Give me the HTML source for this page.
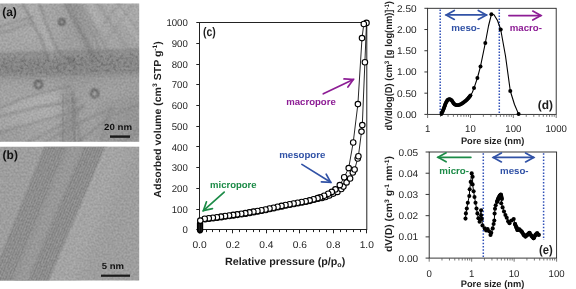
<!DOCTYPE html>
<html><head><meta charset="utf-8"><style>
html,body{margin:0;padding:0;background:#fff;width:576px;height:289px;overflow:hidden}
svg{display:block;will-change:transform}
text{font-family:"Liberation Sans",sans-serif}
svg{text-rendering:geometricPrecision}
</style></head><body>
<svg width="576" height="289" viewBox="0 0 576 289">
<rect width="576" height="289" fill="#fff"/>
<defs><clipPath id="ca"><rect x="0" y="3.5" width="139.2" height="138.3"/></clipPath><clipPath id="cb"><rect x="0" y="146.8" width="139.2" height="133.6"/></clipPath><filter id="b1" x="-30%" y="-30%" width="160%" height="160%"><feGaussianBlur stdDeviation="0.8"/></filter><filter id="b2" x="-30%" y="-30%" width="160%" height="160%"><feGaussianBlur stdDeviation="2"/></filter><filter id="b4" x="-30%" y="-30%" width="160%" height="160%"><feGaussianBlur stdDeviation="3.5"/></filter><filter id="b8" x="-10%" y="-10%" width="120%" height="120%"><feGaussianBlur stdDeviation="7"/></filter><filter id="nz" x="0" y="0" width="100%" height="100%" color-interpolation-filters="sRGB"><feTurbulence type="fractalNoise" baseFrequency="0.5" numOctaves="2" seed="7"/><feColorMatrix type="matrix" values="2.6 0 0 0 -0.8  2.6 0 0 0 -0.8  2.6 0 0 0 -0.8  0 0 0 0 0.07"/></filter><filter id="nz2" x="0" y="0" width="100%" height="100%" color-interpolation-filters="sRGB"><feTurbulence type="fractalNoise" baseFrequency="0.3" numOctaves="3" seed="3"/><feColorMatrix type="matrix" values="0 0 0 0 0.25  0 0 0 0 0.25  0 0 0 0 0.25  -3.2 0 0 0 1.75"/></filter><mask id="mband" maskUnits="userSpaceOnUse" x="0" y="0" width="150" height="150"><polygon points="-5,56 145,52 145,72 -5,76" fill="#fff" filter="url(#b2)"/></mask></defs>
<g clip-path="url(#ca)">
<g filter="url(#b8)">
<rect x="-20" y="-17" width="20.5" height="20.5" fill="rgb(170,170,170)"/>
<rect x="0" y="-17" width="20.5" height="20.5" fill="rgb(170,170,170)"/>
<rect x="20" y="-17" width="20.5" height="20.5" fill="rgb(170,170,170)"/>
<rect x="40" y="-17" width="20.5" height="20.5" fill="rgb(166,166,166)"/>
<rect x="60" y="-17" width="20.5" height="20.5" fill="rgb(160,160,160)"/>
<rect x="80" y="-17" width="20.5" height="20.5" fill="rgb(165,165,165)"/>
<rect x="100" y="-17" width="20.5" height="20.5" fill="rgb(170,170,170)"/>
<rect x="120" y="-17" width="20.5" height="20.5" fill="rgb(172,172,172)"/>
<rect x="140" y="-17" width="20.5" height="20.5" fill="rgb(172,172,172)"/>
<rect x="-20" y="3" width="20.5" height="20.5" fill="rgb(170,170,170)"/>
<rect x="0" y="3" width="20.5" height="20.5" fill="rgb(170,170,170)"/>
<rect x="20" y="3" width="20.5" height="20.5" fill="rgb(170,170,170)"/>
<rect x="40" y="3" width="20.5" height="20.5" fill="rgb(166,166,166)"/>
<rect x="60" y="3" width="20.5" height="20.5" fill="rgb(160,160,160)"/>
<rect x="80" y="3" width="20.5" height="20.5" fill="rgb(165,165,165)"/>
<rect x="100" y="3" width="20.5" height="20.5" fill="rgb(170,170,170)"/>
<rect x="120" y="3" width="20.5" height="20.5" fill="rgb(172,172,172)"/>
<rect x="140" y="3" width="20.5" height="20.5" fill="rgb(172,172,172)"/>
<rect x="-20" y="23" width="20.5" height="20.5" fill="rgb(168,168,168)"/>
<rect x="0" y="23" width="20.5" height="20.5" fill="rgb(168,168,168)"/>
<rect x="20" y="23" width="20.5" height="20.5" fill="rgb(170,170,170)"/>
<rect x="40" y="23" width="20.5" height="20.5" fill="rgb(168,168,168)"/>
<rect x="60" y="23" width="20.5" height="20.5" fill="rgb(158,158,158)"/>
<rect x="80" y="23" width="20.5" height="20.5" fill="rgb(162,162,162)"/>
<rect x="100" y="23" width="20.5" height="20.5" fill="rgb(168,168,168)"/>
<rect x="120" y="23" width="20.5" height="20.5" fill="rgb(165,165,165)"/>
<rect x="140" y="23" width="20.5" height="20.5" fill="rgb(165,165,165)"/>
<rect x="-20" y="43" width="20.5" height="20.5" fill="rgb(166,166,166)"/>
<rect x="0" y="43" width="20.5" height="20.5" fill="rgb(166,166,166)"/>
<rect x="20" y="43" width="20.5" height="20.5" fill="rgb(165,165,165)"/>
<rect x="40" y="43" width="20.5" height="20.5" fill="rgb(165,165,165)"/>
<rect x="60" y="43" width="20.5" height="20.5" fill="rgb(160,160,160)"/>
<rect x="80" y="43" width="20.5" height="20.5" fill="rgb(162,162,162)"/>
<rect x="100" y="43" width="20.5" height="20.5" fill="rgb(164,164,164)"/>
<rect x="120" y="43" width="20.5" height="20.5" fill="rgb(165,165,165)"/>
<rect x="140" y="43" width="20.5" height="20.5" fill="rgb(165,165,165)"/>
<rect x="-20" y="63" width="20.5" height="20.5" fill="rgb(154,154,154)"/>
<rect x="0" y="63" width="20.5" height="20.5" fill="rgb(154,154,154)"/>
<rect x="20" y="63" width="20.5" height="20.5" fill="rgb(152,152,152)"/>
<rect x="40" y="63" width="20.5" height="20.5" fill="rgb(152,152,152)"/>
<rect x="60" y="63" width="20.5" height="20.5" fill="rgb(150,150,150)"/>
<rect x="80" y="63" width="20.5" height="20.5" fill="rgb(152,152,152)"/>
<rect x="100" y="63" width="20.5" height="20.5" fill="rgb(154,154,154)"/>
<rect x="120" y="63" width="20.5" height="20.5" fill="rgb(156,156,156)"/>
<rect x="140" y="63" width="20.5" height="20.5" fill="rgb(156,156,156)"/>
<rect x="-20" y="83" width="20.5" height="20.5" fill="rgb(166,166,166)"/>
<rect x="0" y="83" width="20.5" height="20.5" fill="rgb(166,166,166)"/>
<rect x="20" y="83" width="20.5" height="20.5" fill="rgb(166,166,166)"/>
<rect x="40" y="83" width="20.5" height="20.5" fill="rgb(167,167,167)"/>
<rect x="60" y="83" width="20.5" height="20.5" fill="rgb(158,158,158)"/>
<rect x="80" y="83" width="20.5" height="20.5" fill="rgb(162,162,162)"/>
<rect x="100" y="83" width="20.5" height="20.5" fill="rgb(164,164,164)"/>
<rect x="120" y="83" width="20.5" height="20.5" fill="rgb(160,160,160)"/>
<rect x="140" y="83" width="20.5" height="20.5" fill="rgb(160,160,160)"/>
<rect x="-20" y="103" width="20.5" height="20.5" fill="rgb(164,164,164)"/>
<rect x="0" y="103" width="20.5" height="20.5" fill="rgb(164,164,164)"/>
<rect x="20" y="103" width="20.5" height="20.5" fill="rgb(170,170,170)"/>
<rect x="40" y="103" width="20.5" height="20.5" fill="rgb(170,170,170)"/>
<rect x="60" y="103" width="20.5" height="20.5" fill="rgb(155,155,155)"/>
<rect x="80" y="103" width="20.5" height="20.5" fill="rgb(162,162,162)"/>
<rect x="100" y="103" width="20.5" height="20.5" fill="rgb(160,160,160)"/>
<rect x="120" y="103" width="20.5" height="20.5" fill="rgb(154,154,154)"/>
<rect x="140" y="103" width="20.5" height="20.5" fill="rgb(154,154,154)"/>
<rect x="-20" y="123" width="20.5" height="20.5" fill="rgb(158,158,158)"/>
<rect x="0" y="123" width="20.5" height="20.5" fill="rgb(158,158,158)"/>
<rect x="20" y="123" width="20.5" height="20.5" fill="rgb(163,163,163)"/>
<rect x="40" y="123" width="20.5" height="20.5" fill="rgb(165,165,165)"/>
<rect x="60" y="123" width="20.5" height="20.5" fill="rgb(153,153,153)"/>
<rect x="80" y="123" width="20.5" height="20.5" fill="rgb(160,160,160)"/>
<rect x="100" y="123" width="20.5" height="20.5" fill="rgb(157,157,157)"/>
<rect x="120" y="123" width="20.5" height="20.5" fill="rgb(154,154,154)"/>
<rect x="140" y="123" width="20.5" height="20.5" fill="rgb(154,154,154)"/>
<rect x="-20" y="143" width="20.5" height="20.5" fill="rgb(158,158,158)"/>
<rect x="0" y="143" width="20.5" height="20.5" fill="rgb(158,158,158)"/>
<rect x="20" y="143" width="20.5" height="20.5" fill="rgb(163,163,163)"/>
<rect x="40" y="143" width="20.5" height="20.5" fill="rgb(165,165,165)"/>
<rect x="60" y="143" width="20.5" height="20.5" fill="rgb(153,153,153)"/>
<rect x="80" y="143" width="20.5" height="20.5" fill="rgb(160,160,160)"/>
<rect x="100" y="143" width="20.5" height="20.5" fill="rgb(157,157,157)"/>
<rect x="120" y="143" width="20.5" height="20.5" fill="rgb(154,154,154)"/>
<rect x="140" y="143" width="20.5" height="20.5" fill="rgb(154,154,154)"/>
</g>
<g filter="url(#b4)">
<polygon points="-5,55 145,51.5 145,72 -5,76" fill="#828282" opacity="0.7"/>
</g>
<polygon points="23,3 33,22 42,38 49,58 60,58 52,40 45,22 37,3" fill="#b8b8b8" opacity="0.35" filter="url(#b2)"/>
<path d="M21,0 L32.3,22 L41,38 L47.6,58" fill="none" stroke="#707070" stroke-width="1.8" opacity="0.55" filter="url(#b1)" stroke-linejoin="round"/>
<path d="M38,0 L45.7,22 L53,40 L61,58" fill="none" stroke="#707070" stroke-width="1.8" opacity="0.55" filter="url(#b1)" stroke-linejoin="round"/>
<path d="M-2,27.2 L28.5,18.2 L34,17" fill="none" stroke="#707070" stroke-width="1.6" opacity="0.5" filter="url(#b1)" stroke-linejoin="round"/>
<path d="M-2,34 L28.5,24 L34,23" fill="none" stroke="#707070" stroke-width="1.6" opacity="0.5" filter="url(#b1)" stroke-linejoin="round"/>
<polygon points="64,0 73,0 98,58 88,58" fill="#808080" opacity="0.45" filter="url(#b2)"/>
<path d="M63,0 L88,45 L94,58" fill="none" stroke="#6a6a6a" stroke-width="1.5" opacity="0.5" filter="url(#b1)" stroke-linejoin="round"/>
<path d="M74,0 L96,40 L101,58" fill="none" stroke="#6a6a6a" stroke-width="1.5" opacity="0.4" filter="url(#b1)" stroke-linejoin="round"/>
<polygon points="84,0 92,0 106,28 100,30" fill="#c2c2c2" opacity="0.4" filter="url(#b2)"/>
<polygon points="110,0 120,0 142,36 140,46" fill="#c0c0c0" opacity="0.35" filter="url(#b2)"/>
<path d="M101,28 L122,0" fill="none" stroke="#7a7a7a" stroke-width="1.4" opacity="0.4" filter="url(#b1)" stroke-linejoin="round"/>
<path d="M100,30 L94,36" fill="none" stroke="#7a7a7a" stroke-width="1.2" opacity="0.3" filter="url(#b1)" stroke-linejoin="round"/>
<path d="M0,54 L140,50" fill="none" stroke="#6a6a6a" stroke-width="1.4" opacity="0.45" filter="url(#b1)" stroke-linejoin="round"/>
<path d="M0,75 L140,71" fill="none" stroke="#7a7a7a" stroke-width="2.5" opacity="0.3" filter="url(#b2)" stroke-linejoin="round"/>
<g mask="url(#mband)"><rect x="0" y="40" width="140" height="45" filter="url(#nz2)" opacity="0.3"/></g>
<path d="M78,0 L104,44 L110,56" fill="none" stroke="#707070" stroke-width="1.4" opacity="0.4" filter="url(#b1)" stroke-linejoin="round"/>
<path d="M96,0 L122,40 L130,52" fill="none" stroke="#707070" stroke-width="1.4" opacity="0.35" filter="url(#b1)" stroke-linejoin="round"/>
<path d="M116,0 L140,34" fill="none" stroke="#707070" stroke-width="1.4" opacity="0.35" filter="url(#b1)" stroke-linejoin="round"/>
<path d="M104,44 L126,14 L134,3" fill="none" stroke="#757575" stroke-width="1.3" opacity="0.3" filter="url(#b1)" stroke-linejoin="round"/>
<polygon points="0,110 24.9,99 57.3,90 64.8,101 37.4,106 0,115" fill="#bdbdbd" opacity="0.35" filter="url(#b2)"/>
<polygon points="0,118 37.4,109 64.8,104 67.3,112 0,130" fill="#b8b8b8" opacity="0.3" filter="url(#b2)"/>
<path d="M-2,109 L24.9,97.4 L57.3,88.7 L70,86" fill="none" stroke="#6e6e6e" stroke-width="1.6" opacity="0.5" filter="url(#b1)" stroke-linejoin="round"/>
<path d="M-2,116.5 L37.4,107.4 L64.8,102.4 L80,99" fill="none" stroke="#6e6e6e" stroke-width="1.6" opacity="0.5" filter="url(#b1)" stroke-linejoin="round"/>
<path d="M-2,133 L67.3,113.6 L85,106" fill="none" stroke="#6e6e6e" stroke-width="1.6" opacity="0.45" filter="url(#b1)" stroke-linejoin="round"/>
<path d="M22,145 L69.5,121.4 L83.2,105.2" fill="none" stroke="#6e6e6e" stroke-width="1.6" opacity="0.45" filter="url(#b1)" stroke-linejoin="round"/>
<path d="M40,145 L69.5,128.3 L97.1,114.4 L115,108" fill="none" stroke="#6e6e6e" stroke-width="1.6" opacity="0.45" filter="url(#b1)" stroke-linejoin="round"/>
<path d="M74,145 L113.4,114.4 L140,104" fill="none" stroke="#6e6e6e" stroke-width="1.6" opacity="0.4" filter="url(#b1)" stroke-linejoin="round"/>
<polygon points="62.3,145 62.5,118 63,92 72.2,88 73.5,115 75,145" fill="#8c8c8c" opacity="0.4" filter="url(#b2)"/>
<path d="M62.3,145 L62.3,118 L63,95" fill="none" stroke="#6e6e6e" stroke-width="2.2" opacity="0.45" filter="url(#b1)" stroke-linejoin="round"/>
<path d="M75,145 L73.5,115 L72.2,90" fill="none" stroke="#6e6e6e" stroke-width="2.2" opacity="0.45" filter="url(#b1)" stroke-linejoin="round"/>
<path d="M80.9,145 L76,115 L74,98" fill="none" stroke="#6e6e6e" stroke-width="1.6" opacity="0.35" filter="url(#b1)" stroke-linejoin="round"/>
<path d="M100,145 L108,117 L112,105" fill="none" stroke="#6e6e6e" stroke-width="1.5" opacity="0.35" filter="url(#b1)" stroke-linejoin="round"/>
<path d="M120,145 L140,128" fill="none" stroke="#6e6e6e" stroke-width="1.5" opacity="0.35" filter="url(#b1)" stroke-linejoin="round"/>
<polygon points="100,100 140,95 140,142 100,142" fill="#8a8a8a" opacity="0.25" filter="url(#b4)"/>
<circle cx="38.5" cy="84.5" r="3.7" fill="none" stroke="#383838" stroke-width="1.7" opacity="0.85" filter="url(#b1)"/>
<circle cx="94.8" cy="93.4" r="3.7" fill="none" stroke="#383838" stroke-width="1.7" opacity="0.85" filter="url(#b1)"/>
<circle cx="61.8" cy="22.0" r="2.9" fill="none" stroke="#383838" stroke-width="1.7" opacity="0.75" filter="url(#b1)"/>
<circle cx="71" cy="60.5" r="2.2" fill="none" stroke="#383838" stroke-width="1.7" opacity="0.35" filter="url(#b1)"/>
<rect x="0" y="3" width="140" height="140" filter="url(#nz)"/>
</g>
<defs><pattern id="lat" patternUnits="userSpaceOnUse" width="2.4" height="40" patternTransform="rotate(22.3)"><rect width="1.1" height="40" fill="#000"/></pattern></defs>
<g clip-path="url(#cb)">
<rect x="0" y="146" width="140" height="136" fill="#a0a0a0"/>
<g filter="url(#b8)">
<polygon points="110.14,140 47.14000000000001,290 71.14000000000001,290 134.14,140" fill="#a9a9a9" opacity="0.9"/>
</g>
<polygon points="45.8,140 -14.2,290 46.1,290 109.1,140" fill="#949494" opacity="1" filter="url(#b1)"/>
<polygon points="72.4,140 11.1,290 23.2,290 85.1,140" fill="#9c9c9c" opacity="0.8" filter="url(#b2)"/>
<polygon points="47.1,140 -13.0,290 7.5,290 68.6,140" fill="url(#lat)" opacity="0.09"/>
<polygon points="86.3,140 24.4,290 44.3,290 107.2,140" fill="url(#lat)" opacity="0.1"/>
<line x1="110.34" y1="140" x2="47.34000000000001" y2="290" stroke="#b4b4b4" stroke-width="2" opacity="0.7" filter="url(#b1)"/>
<line x1="44.8" y1="140" x2="-15.200000000000003" y2="290" stroke="#ababab" stroke-width="1.5" opacity="0.6" filter="url(#b1)"/>
<rect x="0" y="146" width="140" height="136" filter="url(#nz)"/>
</g>
<text x="2.20" y="15.60" font-size="12" font-family="Liberation Sans, sans-serif" fill="#111" font-weight="bold" >(a)</text>
<text x="104.00" y="129.60" font-size="8.8" font-family="Liberation Sans, sans-serif" fill="#111" font-weight="bold" textLength="28" lengthAdjust="spacingAndGlyphs" >20 nm</text>
<rect x="110" y="135.4" width="20" height="2.4" fill="#1a1a1a"/>
<text x="2.60" y="159.30" font-size="12" font-family="Liberation Sans, sans-serif" fill="#111" font-weight="bold" >(b)</text>
<text x="101.70" y="269.00" font-size="8.8" font-family="Liberation Sans, sans-serif" fill="#111" font-weight="bold" textLength="22.3" lengthAdjust="spacingAndGlyphs" >5 nm</text>
<rect x="101" y="274.6" width="29" height="2.2" fill="#1a1a1a"/>
<rect x="199.5" y="22.5" width="167.3" height="207" fill="none" stroke="#222" stroke-width="1"/>
<line x1="196.30" y1="229.50" x2="199.50" y2="229.50" stroke="#222" stroke-width="1" />
<text x="187.80" y="233.40" font-size="9.8" font-family="Liberation Sans, sans-serif" fill="#1e1e1e" text-anchor="end" textLength="5.35" lengthAdjust="spacingAndGlyphs" >0</text>
<line x1="196.30" y1="209.50" x2="199.50" y2="209.50" stroke="#222" stroke-width="1" />
<text x="187.80" y="212.69" font-size="9.8" font-family="Liberation Sans, sans-serif" fill="#1e1e1e" text-anchor="end" textLength="16.05" lengthAdjust="spacingAndGlyphs" >100</text>
<line x1="196.30" y1="188.50" x2="199.50" y2="188.50" stroke="#222" stroke-width="1" />
<text x="187.80" y="191.98" font-size="9.8" font-family="Liberation Sans, sans-serif" fill="#1e1e1e" text-anchor="end" textLength="16.05" lengthAdjust="spacingAndGlyphs" >200</text>
<line x1="196.30" y1="167.50" x2="199.50" y2="167.50" stroke="#222" stroke-width="1" />
<text x="187.80" y="171.27" font-size="9.8" font-family="Liberation Sans, sans-serif" fill="#1e1e1e" text-anchor="end" textLength="16.05" lengthAdjust="spacingAndGlyphs" >300</text>
<line x1="196.30" y1="146.50" x2="199.50" y2="146.50" stroke="#222" stroke-width="1" />
<text x="187.80" y="150.56" font-size="9.8" font-family="Liberation Sans, sans-serif" fill="#1e1e1e" text-anchor="end" textLength="16.05" lengthAdjust="spacingAndGlyphs" >400</text>
<line x1="196.30" y1="126.50" x2="199.50" y2="126.50" stroke="#222" stroke-width="1" />
<text x="187.80" y="129.85" font-size="9.8" font-family="Liberation Sans, sans-serif" fill="#1e1e1e" text-anchor="end" textLength="16.05" lengthAdjust="spacingAndGlyphs" >500</text>
<line x1="196.30" y1="105.50" x2="199.50" y2="105.50" stroke="#222" stroke-width="1" />
<text x="187.80" y="109.14" font-size="9.8" font-family="Liberation Sans, sans-serif" fill="#1e1e1e" text-anchor="end" textLength="16.05" lengthAdjust="spacingAndGlyphs" >600</text>
<line x1="196.30" y1="84.50" x2="199.50" y2="84.50" stroke="#222" stroke-width="1" />
<text x="187.80" y="88.43" font-size="9.8" font-family="Liberation Sans, sans-serif" fill="#1e1e1e" text-anchor="end" textLength="16.05" lengthAdjust="spacingAndGlyphs" >700</text>
<line x1="196.30" y1="64.50" x2="199.50" y2="64.50" stroke="#222" stroke-width="1" />
<text x="187.80" y="67.72" font-size="9.8" font-family="Liberation Sans, sans-serif" fill="#1e1e1e" text-anchor="end" textLength="16.05" lengthAdjust="spacingAndGlyphs" >800</text>
<line x1="196.30" y1="43.50" x2="199.50" y2="43.50" stroke="#222" stroke-width="1" />
<text x="187.80" y="47.01" font-size="9.8" font-family="Liberation Sans, sans-serif" fill="#1e1e1e" text-anchor="end" textLength="16.05" lengthAdjust="spacingAndGlyphs" >900</text>
<line x1="196.30" y1="22.50" x2="199.50" y2="22.50" stroke="#222" stroke-width="1" />
<text x="187.80" y="26.30" font-size="9.8" font-family="Liberation Sans, sans-serif" fill="#1e1e1e" text-anchor="end" textLength="21.4" lengthAdjust="spacingAndGlyphs" >1000</text>
<line x1="199.50" y1="229.50" x2="199.50" y2="233.30" stroke="#222" stroke-width="1" />
<line x1="206.50" y1="229.50" x2="206.50" y2="232.10" stroke="#222" stroke-width="1" />
<line x1="212.50" y1="229.50" x2="212.50" y2="232.10" stroke="#222" stroke-width="1" />
<line x1="219.50" y1="229.50" x2="219.50" y2="232.10" stroke="#222" stroke-width="1" />
<line x1="226.50" y1="229.50" x2="226.50" y2="232.10" stroke="#222" stroke-width="1" />
<line x1="232.50" y1="229.50" x2="232.50" y2="233.30" stroke="#222" stroke-width="1" />
<line x1="239.50" y1="229.50" x2="239.50" y2="232.10" stroke="#222" stroke-width="1" />
<line x1="246.50" y1="229.50" x2="246.50" y2="232.10" stroke="#222" stroke-width="1" />
<line x1="253.50" y1="229.50" x2="253.50" y2="232.10" stroke="#222" stroke-width="1" />
<line x1="259.50" y1="229.50" x2="259.50" y2="232.10" stroke="#222" stroke-width="1" />
<line x1="266.50" y1="229.50" x2="266.50" y2="233.30" stroke="#222" stroke-width="1" />
<line x1="273.50" y1="229.50" x2="273.50" y2="232.10" stroke="#222" stroke-width="1" />
<line x1="279.50" y1="229.50" x2="279.50" y2="232.10" stroke="#222" stroke-width="1" />
<line x1="286.50" y1="229.50" x2="286.50" y2="232.10" stroke="#222" stroke-width="1" />
<line x1="293.50" y1="229.50" x2="293.50" y2="232.10" stroke="#222" stroke-width="1" />
<line x1="299.50" y1="229.50" x2="299.50" y2="233.30" stroke="#222" stroke-width="1" />
<line x1="306.50" y1="229.50" x2="306.50" y2="232.10" stroke="#222" stroke-width="1" />
<line x1="313.50" y1="229.50" x2="313.50" y2="232.10" stroke="#222" stroke-width="1" />
<line x1="319.50" y1="229.50" x2="319.50" y2="232.10" stroke="#222" stroke-width="1" />
<line x1="326.50" y1="229.50" x2="326.50" y2="232.10" stroke="#222" stroke-width="1" />
<line x1="333.50" y1="229.50" x2="333.50" y2="233.30" stroke="#222" stroke-width="1" />
<line x1="340.50" y1="229.50" x2="340.50" y2="232.10" stroke="#222" stroke-width="1" />
<line x1="346.50" y1="229.50" x2="346.50" y2="232.10" stroke="#222" stroke-width="1" />
<line x1="353.50" y1="229.50" x2="353.50" y2="232.10" stroke="#222" stroke-width="1" />
<line x1="360.50" y1="229.50" x2="360.50" y2="232.10" stroke="#222" stroke-width="1" />
<line x1="366.50" y1="229.50" x2="366.50" y2="233.30" stroke="#222" stroke-width="1" />
<text x="199.50" y="247.60" font-size="9.8" font-family="Liberation Sans, sans-serif" fill="#1e1e1e" text-anchor="middle" textLength="14.2" lengthAdjust="spacingAndGlyphs" >0.0</text>
<text x="232.96" y="247.60" font-size="9.8" font-family="Liberation Sans, sans-serif" fill="#1e1e1e" text-anchor="middle" textLength="14.2" lengthAdjust="spacingAndGlyphs" >0.2</text>
<text x="266.42" y="247.60" font-size="9.8" font-family="Liberation Sans, sans-serif" fill="#1e1e1e" text-anchor="middle" textLength="14.2" lengthAdjust="spacingAndGlyphs" >0.4</text>
<text x="299.88" y="247.60" font-size="9.8" font-family="Liberation Sans, sans-serif" fill="#1e1e1e" text-anchor="middle" textLength="14.2" lengthAdjust="spacingAndGlyphs" >0.6</text>
<text x="333.34" y="247.60" font-size="9.8" font-family="Liberation Sans, sans-serif" fill="#1e1e1e" text-anchor="middle" textLength="14.2" lengthAdjust="spacingAndGlyphs" >0.8</text>
<text x="366.80" y="247.60" font-size="9.8" font-family="Liberation Sans, sans-serif" fill="#1e1e1e" text-anchor="middle" textLength="14.2" lengthAdjust="spacingAndGlyphs" >1.0</text>
<text x="160.60" y="119.40" font-size="10.2" font-family="Liberation Sans, sans-serif" fill="#1e1e1e" font-weight="bold" text-anchor="middle" textLength="156.5" lengthAdjust="spacingAndGlyphs" transform="rotate(-90 160.60 119.40)" >Adsorbed volume (cm<tspan font-size="6.5" dy="-3.5">3</tspan><tspan dy="3.5"> STP g</tspan><tspan font-size="6.5" dy="-3.5">-1</tspan><tspan dy="3.5">)</tspan></text>
<text x="285.10" y="264.70" font-size="10.6" font-family="Liberation Sans, sans-serif" fill="#1e1e1e" font-weight="bold" text-anchor="middle" textLength="120.4" lengthAdjust="spacingAndGlyphs" >Relative pressure (p/p<tspan font-size="7" dy="2.5">o</tspan><tspan dy="-2.5">)</tspan></text>
<text x="202.90" y="36.40" font-size="12.5" font-family="Liberation Sans, sans-serif" fill="#1e1e1e" font-weight="bold" textLength="12.8" lengthAdjust="spacingAndGlyphs" >(c)</text>
<polyline points="200.20,229.70 200.30,220.60 205.10,219.30 209.16,218.76 213.23,218.22 217.29,217.68 221.36,217.14 225.42,216.57 229.48,215.99 233.54,215.42 237.59,214.84 241.65,214.26 245.70,213.63 249.74,212.90 253.77,212.17 257.81,211.44 261.84,210.71 265.87,209.95 269.87,209.07 273.88,208.18 277.88,207.30 281.89,206.42 285.89,205.53 289.92,204.77 293.95,204.04 297.98,203.30 302.02,202.56 306.05,201.82 310.03,200.87 313.98,199.75 317.92,198.63 322.00,198.00 325.50,197.00 329.30,195.40 333.30,193.60 337.40,191.90 341.30,189.00 343.40,186.60 346.60,182.40 350.10,178.50 352.80,172.50 354.60,169.50 357.70,158.50 358.40,156.30 361.50,131.60 362.30,125.10 364.90,62.20 366.50,22.90" fill="none" stroke="#000" stroke-width="0.85"/>
<polyline points="200.30,220.60 204.70,218.80 208.76,218.26 212.83,217.72 216.89,217.18 220.96,216.64 225.02,216.07 229.08,215.49 233.14,214.92 237.19,214.34 241.25,213.76 245.30,213.13 249.34,212.40 253.37,211.67 257.41,210.94 261.44,210.21 265.47,209.45 269.47,208.57 273.48,207.68 277.48,206.80 281.49,205.92 285.49,205.03 289.52,204.27 293.55,203.54 297.58,202.80 301.62,202.06 305.65,201.32 309.63,200.37 313.58,199.25 317.52,198.13 320.10,197.40 324.10,195.70 328.20,193.80 331.80,191.90 335.40,189.40 339.80,185.10 344.20,177.30 348.70,168.10 353.20,142.50 357.90,104.10 362.00,38.10 363.80,24.00" fill="none" stroke="#000" stroke-width="0.85"/>
<rect x="196.9" y="220.5" width="6.3" height="12.9" rx="3.1" ry="3.1" fill="#000"/>
<line x1="199.2" y1="224" x2="199.2" y2="231.5" stroke="#555" stroke-width="0.5"/>
<line x1="201.2" y1="224" x2="201.2" y2="231.5" stroke="#444" stroke-width="0.5"/>
<circle cx="205.10" cy="219.30" r="2.75" fill="#fff" stroke="#000" stroke-width="1.1"/>
<circle cx="209.16" cy="218.76" r="2.75" fill="#fff" stroke="#000" stroke-width="1.1"/>
<circle cx="213.23" cy="218.22" r="2.75" fill="#fff" stroke="#000" stroke-width="1.1"/>
<circle cx="217.29" cy="217.68" r="2.75" fill="#fff" stroke="#000" stroke-width="1.1"/>
<circle cx="221.36" cy="217.14" r="2.75" fill="#fff" stroke="#000" stroke-width="1.1"/>
<circle cx="225.42" cy="216.57" r="2.75" fill="#fff" stroke="#000" stroke-width="1.1"/>
<circle cx="229.48" cy="215.99" r="2.75" fill="#fff" stroke="#000" stroke-width="1.1"/>
<circle cx="233.54" cy="215.42" r="2.75" fill="#fff" stroke="#000" stroke-width="1.1"/>
<circle cx="237.59" cy="214.84" r="2.75" fill="#fff" stroke="#000" stroke-width="1.1"/>
<circle cx="241.65" cy="214.26" r="2.75" fill="#fff" stroke="#000" stroke-width="1.1"/>
<circle cx="245.70" cy="213.63" r="2.75" fill="#fff" stroke="#000" stroke-width="1.1"/>
<circle cx="249.74" cy="212.90" r="2.75" fill="#fff" stroke="#000" stroke-width="1.1"/>
<circle cx="253.77" cy="212.17" r="2.75" fill="#fff" stroke="#000" stroke-width="1.1"/>
<circle cx="257.81" cy="211.44" r="2.75" fill="#fff" stroke="#000" stroke-width="1.1"/>
<circle cx="261.84" cy="210.71" r="2.75" fill="#fff" stroke="#000" stroke-width="1.1"/>
<circle cx="265.87" cy="209.95" r="2.75" fill="#fff" stroke="#000" stroke-width="1.1"/>
<circle cx="269.87" cy="209.07" r="2.75" fill="#fff" stroke="#000" stroke-width="1.1"/>
<circle cx="273.88" cy="208.18" r="2.75" fill="#fff" stroke="#000" stroke-width="1.1"/>
<circle cx="277.88" cy="207.30" r="2.75" fill="#fff" stroke="#000" stroke-width="1.1"/>
<circle cx="281.89" cy="206.42" r="2.75" fill="#fff" stroke="#000" stroke-width="1.1"/>
<circle cx="285.89" cy="205.53" r="2.75" fill="#fff" stroke="#000" stroke-width="1.1"/>
<circle cx="289.92" cy="204.77" r="2.75" fill="#fff" stroke="#000" stroke-width="1.1"/>
<circle cx="293.95" cy="204.04" r="2.75" fill="#fff" stroke="#000" stroke-width="1.1"/>
<circle cx="297.98" cy="203.30" r="2.75" fill="#fff" stroke="#000" stroke-width="1.1"/>
<circle cx="302.02" cy="202.56" r="2.75" fill="#fff" stroke="#000" stroke-width="1.1"/>
<circle cx="306.05" cy="201.82" r="2.75" fill="#fff" stroke="#000" stroke-width="1.1"/>
<circle cx="310.03" cy="200.87" r="2.75" fill="#fff" stroke="#000" stroke-width="1.1"/>
<circle cx="313.98" cy="199.75" r="2.75" fill="#fff" stroke="#000" stroke-width="1.1"/>
<circle cx="317.92" cy="198.63" r="2.75" fill="#fff" stroke="#000" stroke-width="1.1"/>
<circle cx="322.00" cy="198.00" r="2.75" fill="#fff" stroke="#000" stroke-width="1.1"/>
<circle cx="325.50" cy="197.00" r="2.75" fill="#fff" stroke="#000" stroke-width="1.1"/>
<circle cx="329.30" cy="195.40" r="2.75" fill="#fff" stroke="#000" stroke-width="1.1"/>
<circle cx="333.30" cy="193.60" r="2.75" fill="#fff" stroke="#000" stroke-width="1.1"/>
<circle cx="337.40" cy="191.90" r="2.75" fill="#fff" stroke="#000" stroke-width="1.1"/>
<circle cx="341.30" cy="189.00" r="2.75" fill="#fff" stroke="#000" stroke-width="1.1"/>
<circle cx="343.40" cy="186.60" r="2.75" fill="#fff" stroke="#000" stroke-width="1.1"/>
<circle cx="346.60" cy="182.40" r="2.75" fill="#fff" stroke="#000" stroke-width="1.1"/>
<circle cx="350.10" cy="178.50" r="2.75" fill="#fff" stroke="#000" stroke-width="1.1"/>
<circle cx="352.80" cy="172.50" r="2.75" fill="#fff" stroke="#000" stroke-width="1.1"/>
<circle cx="354.60" cy="169.50" r="2.75" fill="#fff" stroke="#000" stroke-width="1.1"/>
<circle cx="357.70" cy="158.50" r="2.75" fill="#fff" stroke="#000" stroke-width="1.1"/>
<circle cx="358.40" cy="156.30" r="2.75" fill="#fff" stroke="#000" stroke-width="1.1"/>
<circle cx="361.50" cy="131.60" r="2.75" fill="#fff" stroke="#000" stroke-width="1.1"/>
<circle cx="362.30" cy="125.10" r="2.75" fill="#fff" stroke="#000" stroke-width="1.1"/>
<circle cx="364.90" cy="62.20" r="2.75" fill="#fff" stroke="#000" stroke-width="1.1"/>
<circle cx="366.50" cy="22.90" r="2.75" fill="#fff" stroke="#000" stroke-width="1.1"/>
<circle cx="363.80" cy="24.00" r="2.75" fill="#fff" stroke="#000" stroke-width="1.1"/>
<circle cx="362.00" cy="38.10" r="2.75" fill="#fff" stroke="#000" stroke-width="1.1"/>
<circle cx="357.90" cy="104.10" r="2.75" fill="#fff" stroke="#000" stroke-width="1.1"/>
<circle cx="353.20" cy="142.50" r="2.75" fill="#fff" stroke="#000" stroke-width="1.1"/>
<circle cx="348.70" cy="168.10" r="2.75" fill="#fff" stroke="#000" stroke-width="1.1"/>
<circle cx="344.20" cy="177.30" r="2.75" fill="#fff" stroke="#000" stroke-width="1.1"/>
<circle cx="339.80" cy="185.10" r="2.75" fill="#fff" stroke="#000" stroke-width="1.1"/>
<circle cx="335.40" cy="189.40" r="2.75" fill="#fff" stroke="#000" stroke-width="1.1"/>
<circle cx="331.80" cy="191.90" r="2.75" fill="#fff" stroke="#000" stroke-width="1.1"/>
<circle cx="328.20" cy="193.80" r="2.75" fill="#fff" stroke="#000" stroke-width="1.1"/>
<circle cx="324.10" cy="195.70" r="2.75" fill="#fff" stroke="#000" stroke-width="1.1"/>
<circle cx="320.10" cy="197.40" r="2.75" fill="#fff" stroke="#000" stroke-width="1.1"/>
<circle cx="317.52" cy="198.13" r="2.75" fill="#fff" stroke="#000" stroke-width="1.1"/>
<circle cx="313.58" cy="199.25" r="2.75" fill="#fff" stroke="#000" stroke-width="1.1"/>
<circle cx="309.63" cy="200.37" r="2.75" fill="#fff" stroke="#000" stroke-width="1.1"/>
<circle cx="305.65" cy="201.32" r="2.75" fill="#fff" stroke="#000" stroke-width="1.1"/>
<circle cx="301.62" cy="202.06" r="2.75" fill="#fff" stroke="#000" stroke-width="1.1"/>
<circle cx="297.58" cy="202.80" r="2.75" fill="#fff" stroke="#000" stroke-width="1.1"/>
<circle cx="293.55" cy="203.54" r="2.75" fill="#fff" stroke="#000" stroke-width="1.1"/>
<circle cx="289.52" cy="204.27" r="2.75" fill="#fff" stroke="#000" stroke-width="1.1"/>
<circle cx="285.49" cy="205.03" r="2.75" fill="#fff" stroke="#000" stroke-width="1.1"/>
<circle cx="281.49" cy="205.92" r="2.75" fill="#fff" stroke="#000" stroke-width="1.1"/>
<circle cx="277.48" cy="206.80" r="2.75" fill="#fff" stroke="#000" stroke-width="1.1"/>
<circle cx="273.48" cy="207.68" r="2.75" fill="#fff" stroke="#000" stroke-width="1.1"/>
<circle cx="269.47" cy="208.57" r="2.75" fill="#fff" stroke="#000" stroke-width="1.1"/>
<circle cx="265.47" cy="209.45" r="2.75" fill="#fff" stroke="#000" stroke-width="1.1"/>
<circle cx="261.44" cy="210.21" r="2.75" fill="#fff" stroke="#000" stroke-width="1.1"/>
<circle cx="257.41" cy="210.94" r="2.75" fill="#fff" stroke="#000" stroke-width="1.1"/>
<circle cx="253.37" cy="211.67" r="2.75" fill="#fff" stroke="#000" stroke-width="1.1"/>
<circle cx="249.34" cy="212.40" r="2.75" fill="#fff" stroke="#000" stroke-width="1.1"/>
<circle cx="245.30" cy="213.13" r="2.75" fill="#fff" stroke="#000" stroke-width="1.1"/>
<circle cx="241.25" cy="213.76" r="2.75" fill="#fff" stroke="#000" stroke-width="1.1"/>
<circle cx="237.19" cy="214.34" r="2.75" fill="#fff" stroke="#000" stroke-width="1.1"/>
<circle cx="233.14" cy="214.92" r="2.75" fill="#fff" stroke="#000" stroke-width="1.1"/>
<circle cx="229.08" cy="215.49" r="2.75" fill="#fff" stroke="#000" stroke-width="1.1"/>
<circle cx="225.02" cy="216.07" r="2.75" fill="#fff" stroke="#000" stroke-width="1.1"/>
<circle cx="220.96" cy="216.64" r="2.75" fill="#fff" stroke="#000" stroke-width="1.1"/>
<circle cx="216.89" cy="217.18" r="2.75" fill="#fff" stroke="#000" stroke-width="1.1"/>
<circle cx="212.83" cy="217.72" r="2.75" fill="#fff" stroke="#000" stroke-width="1.1"/>
<circle cx="208.76" cy="218.26" r="2.75" fill="#fff" stroke="#000" stroke-width="1.1"/>
<circle cx="204.70" cy="218.80" r="2.75" fill="#fff" stroke="#000" stroke-width="1.1"/>
<circle cx="200.30" cy="220.60" r="2.75" fill="#fff" stroke="#000" stroke-width="1.1"/>
<text x="286.20" y="104.60" font-size="9.5" font-family="Liberation Sans, sans-serif" fill="#8D1D95" font-weight="bold" textLength="49.6" lengthAdjust="spacingAndGlyphs" >macropore</text>
<line x1="323.30" y1="93.80" x2="353.30" y2="79.50" stroke="#8D1D95" stroke-width="1.7" stroke-linecap="round"/>
<polyline points="347.90,87.07 353.30,79.50 344.02,78.93" fill="none" stroke="#8D1D95" stroke-width="1.7" stroke-linecap="round" stroke-linejoin="miter"/>
<text x="279.20" y="158.20" font-size="9.5" font-family="Liberation Sans, sans-serif" fill="#3152A6" font-weight="bold" textLength="46.1" lengthAdjust="spacingAndGlyphs" >mesopore</text>
<line x1="301.90" y1="164.40" x2="330.70" y2="182.30" stroke="#3152A6" stroke-width="1.7" stroke-linecap="round"/>
<polyline points="321.41,181.84 330.70,182.30 326.17,174.18" fill="none" stroke="#3152A6" stroke-width="1.7" stroke-linecap="round" stroke-linejoin="miter"/>
<text x="210.10" y="187.80" font-size="9.5" font-family="Liberation Sans, sans-serif" fill="#1C8B47" font-weight="bold" textLength="46.5" lengthAdjust="spacingAndGlyphs" >micropore</text>
<line x1="224.20" y1="192.10" x2="203.40" y2="210.60" stroke="#1C8B47" stroke-width="1.7" stroke-linecap="round"/>
<polyline points="206.48,201.83 203.40,210.60 212.47,208.56" fill="none" stroke="#1C8B47" stroke-width="1.7" stroke-linecap="round" stroke-linejoin="miter"/>
<rect x="427.6" y="8.3" width="128.60000000000002" height="106.10000000000001" fill="none" stroke="#222" stroke-width="0.9"/>
<line x1="424.40" y1="114.40" x2="427.60" y2="114.40" stroke="#222" stroke-width="0.9" />
<text x="416.60" y="117.90" font-size="9.8" font-family="Liberation Sans, sans-serif" fill="#1e1e1e" text-anchor="end" textLength="19.6" lengthAdjust="spacingAndGlyphs" >0.00</text>
<line x1="424.40" y1="93.18" x2="427.60" y2="93.18" stroke="#222" stroke-width="0.9" />
<text x="416.60" y="96.68" font-size="9.8" font-family="Liberation Sans, sans-serif" fill="#1e1e1e" text-anchor="end" textLength="19.6" lengthAdjust="spacingAndGlyphs" >0.50</text>
<line x1="424.40" y1="71.96" x2="427.60" y2="71.96" stroke="#222" stroke-width="0.9" />
<text x="416.60" y="75.46" font-size="9.8" font-family="Liberation Sans, sans-serif" fill="#1e1e1e" text-anchor="end" textLength="19.6" lengthAdjust="spacingAndGlyphs" >1.00</text>
<line x1="424.40" y1="50.74" x2="427.60" y2="50.74" stroke="#222" stroke-width="0.9" />
<text x="416.60" y="54.24" font-size="9.8" font-family="Liberation Sans, sans-serif" fill="#1e1e1e" text-anchor="end" textLength="19.6" lengthAdjust="spacingAndGlyphs" >1.50</text>
<line x1="424.40" y1="29.52" x2="427.60" y2="29.52" stroke="#222" stroke-width="0.9" />
<text x="416.60" y="33.02" font-size="9.8" font-family="Liberation Sans, sans-serif" fill="#1e1e1e" text-anchor="end" textLength="19.6" lengthAdjust="spacingAndGlyphs" >2.00</text>
<line x1="424.40" y1="8.30" x2="427.60" y2="8.30" stroke="#222" stroke-width="0.9" />
<text x="416.60" y="11.80" font-size="9.8" font-family="Liberation Sans, sans-serif" fill="#1e1e1e" text-anchor="end" textLength="19.6" lengthAdjust="spacingAndGlyphs" >2.50</text>
<line x1="427.60" y1="114.40" x2="427.60" y2="118.00" stroke="#555" stroke-width="0.8" />
<line x1="440.50" y1="114.40" x2="440.50" y2="116.80" stroke="#555" stroke-width="0.8" />
<line x1="448.05" y1="114.40" x2="448.05" y2="116.80" stroke="#555" stroke-width="0.8" />
<line x1="453.41" y1="114.40" x2="453.41" y2="116.80" stroke="#555" stroke-width="0.8" />
<line x1="457.56" y1="114.40" x2="457.56" y2="116.80" stroke="#555" stroke-width="0.8" />
<line x1="460.96" y1="114.40" x2="460.96" y2="116.80" stroke="#555" stroke-width="0.8" />
<line x1="463.83" y1="114.40" x2="463.83" y2="116.80" stroke="#555" stroke-width="0.8" />
<line x1="466.31" y1="114.40" x2="466.31" y2="116.80" stroke="#555" stroke-width="0.8" />
<line x1="468.51" y1="114.40" x2="468.51" y2="116.80" stroke="#555" stroke-width="0.8" />
<line x1="470.47" y1="114.40" x2="470.47" y2="118.00" stroke="#555" stroke-width="0.8" />
<line x1="483.37" y1="114.40" x2="483.37" y2="116.80" stroke="#555" stroke-width="0.8" />
<line x1="490.92" y1="114.40" x2="490.92" y2="116.80" stroke="#555" stroke-width="0.8" />
<line x1="496.27" y1="114.40" x2="496.27" y2="116.80" stroke="#555" stroke-width="0.8" />
<line x1="500.43" y1="114.40" x2="500.43" y2="116.80" stroke="#555" stroke-width="0.8" />
<line x1="503.82" y1="114.40" x2="503.82" y2="116.80" stroke="#555" stroke-width="0.8" />
<line x1="506.69" y1="114.40" x2="506.69" y2="116.80" stroke="#555" stroke-width="0.8" />
<line x1="509.18" y1="114.40" x2="509.18" y2="116.80" stroke="#555" stroke-width="0.8" />
<line x1="511.37" y1="114.40" x2="511.37" y2="116.80" stroke="#555" stroke-width="0.8" />
<line x1="513.33" y1="114.40" x2="513.33" y2="118.00" stroke="#555" stroke-width="0.8" />
<line x1="526.24" y1="114.40" x2="526.24" y2="116.80" stroke="#555" stroke-width="0.8" />
<line x1="533.79" y1="114.40" x2="533.79" y2="116.80" stroke="#555" stroke-width="0.8" />
<line x1="539.14" y1="114.40" x2="539.14" y2="116.80" stroke="#555" stroke-width="0.8" />
<line x1="543.30" y1="114.40" x2="543.30" y2="116.80" stroke="#555" stroke-width="0.8" />
<line x1="546.69" y1="114.40" x2="546.69" y2="116.80" stroke="#555" stroke-width="0.8" />
<line x1="549.56" y1="114.40" x2="549.56" y2="116.80" stroke="#555" stroke-width="0.8" />
<line x1="552.05" y1="114.40" x2="552.05" y2="116.80" stroke="#555" stroke-width="0.8" />
<line x1="554.24" y1="114.40" x2="554.24" y2="116.80" stroke="#555" stroke-width="0.8" />
<line x1="556.20" y1="114.40" x2="556.20" y2="118.00" stroke="#555" stroke-width="0.8" />
<text x="427.60" y="131.70" font-size="9.8" font-family="Liberation Sans, sans-serif" fill="#1e1e1e" text-anchor="middle" textLength="5.35" lengthAdjust="spacingAndGlyphs" >1</text>
<text x="470.47" y="131.70" font-size="9.8" font-family="Liberation Sans, sans-serif" fill="#1e1e1e" text-anchor="middle" textLength="10.7" lengthAdjust="spacingAndGlyphs" >10</text>
<text x="513.33" y="131.70" font-size="9.8" font-family="Liberation Sans, sans-serif" fill="#1e1e1e" text-anchor="middle" textLength="16.05" lengthAdjust="spacingAndGlyphs" >100</text>
<text x="556.20" y="131.70" font-size="9.8" font-family="Liberation Sans, sans-serif" fill="#1e1e1e" text-anchor="middle" textLength="21.4" lengthAdjust="spacingAndGlyphs" >1000</text>
<text x="492.60" y="143.60" font-size="9.4" font-family="Liberation Sans, sans-serif" fill="#1e1e1e" font-weight="bold" text-anchor="middle" textLength="63.4" lengthAdjust="spacingAndGlyphs" >Pore size (nm)</text>
<text x="392.20" y="65.80" font-size="10.0" font-family="Liberation Sans, sans-serif" fill="#1e1e1e" font-weight="bold" text-anchor="middle" textLength="129.5" lengthAdjust="spacingAndGlyphs" transform="rotate(-90 392.20 65.80)" >dV/dlog(D) (cm<tspan font-size="6.5" dy="-3.5">3</tspan><tspan dy="3.5"> [g log(nm)]</tspan><tspan font-size="6.5" dy="-3.5">-1</tspan><tspan dy="3.5">)</tspan></text>
<text x="537.70" y="109.10" font-size="12" font-family="Liberation Sans, sans-serif" fill="#1e1e1e" font-weight="bold" textLength="15.2" lengthAdjust="spacingAndGlyphs" >(d)</text>
<line x1="440.20" y1="9.50" x2="440.20" y2="114.40" stroke="#3050B8" stroke-width="1.5" stroke-dasharray="1.5 1.5"/>
<line x1="499.30" y1="9.50" x2="499.30" y2="114.40" stroke="#3050B8" stroke-width="1.5" stroke-dasharray="1.5 1.5"/>
<polyline points="441.40,114.00 442.10,112.30 443.80,108.60 445.50,103.60 447.50,99.90 449.60,99.00 451.70,100.30 453.80,103.60 455.80,105.10 458.30,105.10 460.80,104.30 463.30,102.60 465.80,100.70 468.30,98.20 470.60,95.20 472.30,92.50 474.00,88.10 477.40,78.00 480.50,66.40 485.30,43.00 488.50,26.00 491.40,14.30 494.00,14.80 497.50,20.50 500.70,29.50 505.50,56.00 510.30,91.00 514.50,104.50 518.60,114.10" fill="none" stroke="#000" stroke-width="1.1" stroke-linejoin="round"/>
<circle cx="441.40" cy="114.00" r="1.9" fill="#000"/>
<circle cx="441.78" cy="113.08" r="1.9" fill="#000"/>
<circle cx="442.17" cy="112.15" r="1.9" fill="#000"/>
<circle cx="442.58" cy="111.24" r="1.9" fill="#000"/>
<circle cx="443.00" cy="110.34" r="1.9" fill="#000"/>
<circle cx="443.42" cy="109.43" r="1.9" fill="#000"/>
<circle cx="443.83" cy="108.52" r="1.9" fill="#000"/>
<circle cx="444.15" cy="107.57" r="1.9" fill="#000"/>
<circle cx="444.47" cy="106.62" r="1.9" fill="#000"/>
<circle cx="444.79" cy="105.67" r="1.9" fill="#000"/>
<circle cx="445.12" cy="104.73" r="1.9" fill="#000"/>
<circle cx="445.44" cy="103.78" r="1.9" fill="#000"/>
<circle cx="445.88" cy="102.89" r="1.9" fill="#000"/>
<circle cx="446.36" cy="102.01" r="1.9" fill="#000"/>
<circle cx="446.84" cy="101.13" r="1.9" fill="#000"/>
<circle cx="447.31" cy="100.25" r="1.9" fill="#000"/>
<circle cx="448.05" cy="99.66" r="1.9" fill="#000"/>
<circle cx="448.97" cy="99.27" r="1.9" fill="#000"/>
<circle cx="449.87" cy="99.17" r="1.9" fill="#000"/>
<circle cx="450.72" cy="99.69" r="1.9" fill="#000"/>
<circle cx="451.57" cy="100.22" r="1.9" fill="#000"/>
<circle cx="452.16" cy="101.02" r="1.9" fill="#000"/>
<circle cx="452.69" cy="101.86" r="1.9" fill="#000"/>
<circle cx="453.23" cy="102.70" r="1.9" fill="#000"/>
<circle cx="453.77" cy="103.55" r="1.9" fill="#000"/>
<circle cx="454.55" cy="104.16" r="1.9" fill="#000"/>
<circle cx="455.35" cy="104.76" r="1.9" fill="#000"/>
<circle cx="456.24" cy="105.10" r="1.9" fill="#000"/>
<circle cx="457.24" cy="105.10" r="1.9" fill="#000"/>
<circle cx="458.24" cy="105.10" r="1.9" fill="#000"/>
<circle cx="459.19" cy="104.81" r="1.9" fill="#000"/>
<circle cx="460.14" cy="104.51" r="1.9" fill="#000"/>
<circle cx="461.06" cy="104.12" r="1.9" fill="#000"/>
<circle cx="461.88" cy="103.56" r="1.9" fill="#000"/>
<circle cx="462.71" cy="103.00" r="1.9" fill="#000"/>
<circle cx="463.53" cy="102.43" r="1.9" fill="#000"/>
<circle cx="464.33" cy="101.82" r="1.9" fill="#000"/>
<circle cx="465.12" cy="101.22" r="1.9" fill="#000"/>
<circle cx="465.90" cy="100.60" r="1.9" fill="#000"/>
<circle cx="466.61" cy="99.89" r="1.9" fill="#000"/>
<circle cx="467.32" cy="99.18" r="1.9" fill="#000"/>
<circle cx="468.03" cy="98.47" r="1.9" fill="#000"/>
<circle cx="468.67" cy="97.71" r="1.9" fill="#000"/>
<circle cx="469.28" cy="96.92" r="1.9" fill="#000"/>
<circle cx="469.89" cy="96.13" r="1.9" fill="#000"/>
<circle cx="470.50" cy="95.33" r="1.9" fill="#000"/>
<circle cx="474.00" cy="88.10" r="2.0" fill="#000"/>
<circle cx="477.40" cy="78.00" r="2.0" fill="#000"/>
<circle cx="480.50" cy="66.40" r="2.0" fill="#000"/>
<circle cx="485.30" cy="43.00" r="2.0" fill="#000"/>
<circle cx="491.40" cy="14.30" r="2.0" fill="#000"/>
<circle cx="500.70" cy="29.50" r="2.0" fill="#000"/>
<circle cx="510.30" cy="91.00" r="2.0" fill="#000"/>
<circle cx="518.60" cy="114.10" r="2.0" fill="#000"/>
<line x1="446.20" y1="14.90" x2="486.40" y2="14.90" stroke="#3152A6" stroke-width="1.7" stroke-linecap="round"/>
<polyline points="478.27,19.41 486.40,14.90 478.27,10.39" fill="none" stroke="#3152A6" stroke-width="1.7" stroke-linecap="round" stroke-linejoin="miter"/>
<polyline points="454.33,10.39 446.20,14.90 454.33,19.41" fill="none" stroke="#3152A6" stroke-width="1.7" stroke-linecap="round" stroke-linejoin="miter"/>
<text x="451.30" y="31.30" font-size="9.5" font-family="Liberation Sans, sans-serif" fill="#3152A6" font-weight="bold" textLength="28.8" lengthAdjust="spacingAndGlyphs" >meso-</text>
<line x1="508.90" y1="15.60" x2="540.90" y2="15.60" stroke="#8D1D95" stroke-width="1.7" stroke-linecap="round"/>
<polyline points="532.77,20.11 540.90,15.60 532.77,11.09" fill="none" stroke="#8D1D95" stroke-width="1.7" stroke-linecap="round" stroke-linejoin="miter"/>
<text x="509.70" y="31.30" font-size="9.5" font-family="Liberation Sans, sans-serif" fill="#8D1D95" font-weight="bold" textLength="32.2" lengthAdjust="spacingAndGlyphs" >macro-</text>
<rect x="429.2" y="152.0" width="127.40000000000003" height="106.10000000000002" fill="none" stroke="#222" stroke-width="0.9"/>
<line x1="425.60" y1="258.10" x2="429.20" y2="258.10" stroke="#222" stroke-width="0.9" />
<text x="418.20" y="261.60" font-size="9.8" font-family="Liberation Sans, sans-serif" fill="#1e1e1e" text-anchor="end" textLength="19.6" lengthAdjust="spacingAndGlyphs" >0.00</text>
<line x1="425.60" y1="236.88" x2="429.20" y2="236.88" stroke="#222" stroke-width="0.9" />
<text x="418.20" y="240.38" font-size="9.8" font-family="Liberation Sans, sans-serif" fill="#1e1e1e" text-anchor="end" textLength="19.6" lengthAdjust="spacingAndGlyphs" >0.01</text>
<line x1="425.60" y1="215.66" x2="429.20" y2="215.66" stroke="#222" stroke-width="0.9" />
<text x="418.20" y="219.16" font-size="9.8" font-family="Liberation Sans, sans-serif" fill="#1e1e1e" text-anchor="end" textLength="19.6" lengthAdjust="spacingAndGlyphs" >0.02</text>
<line x1="425.60" y1="194.44" x2="429.20" y2="194.44" stroke="#222" stroke-width="0.9" />
<text x="418.20" y="197.94" font-size="9.8" font-family="Liberation Sans, sans-serif" fill="#1e1e1e" text-anchor="end" textLength="19.6" lengthAdjust="spacingAndGlyphs" >0.03</text>
<line x1="425.60" y1="173.22" x2="429.20" y2="173.22" stroke="#222" stroke-width="0.9" />
<text x="418.20" y="176.72" font-size="9.8" font-family="Liberation Sans, sans-serif" fill="#1e1e1e" text-anchor="end" textLength="19.6" lengthAdjust="spacingAndGlyphs" >0.04</text>
<line x1="425.60" y1="152.00" x2="429.20" y2="152.00" stroke="#222" stroke-width="0.9" />
<text x="418.20" y="155.50" font-size="9.8" font-family="Liberation Sans, sans-serif" fill="#1e1e1e" text-anchor="end" textLength="19.6" lengthAdjust="spacingAndGlyphs" >0.05</text>
<line x1="429.20" y1="258.10" x2="429.20" y2="261.70" stroke="#555" stroke-width="0.8" />
<line x1="441.98" y1="258.10" x2="441.98" y2="260.50" stroke="#555" stroke-width="0.8" />
<line x1="449.46" y1="258.10" x2="449.46" y2="260.50" stroke="#555" stroke-width="0.8" />
<line x1="454.77" y1="258.10" x2="454.77" y2="260.50" stroke="#555" stroke-width="0.8" />
<line x1="458.88" y1="258.10" x2="458.88" y2="260.50" stroke="#555" stroke-width="0.8" />
<line x1="462.25" y1="258.10" x2="462.25" y2="260.50" stroke="#555" stroke-width="0.8" />
<line x1="465.09" y1="258.10" x2="465.09" y2="260.50" stroke="#555" stroke-width="0.8" />
<line x1="467.55" y1="258.10" x2="467.55" y2="260.50" stroke="#555" stroke-width="0.8" />
<line x1="469.72" y1="258.10" x2="469.72" y2="260.50" stroke="#555" stroke-width="0.8" />
<line x1="471.67" y1="258.10" x2="471.67" y2="261.70" stroke="#555" stroke-width="0.8" />
<line x1="484.45" y1="258.10" x2="484.45" y2="260.50" stroke="#555" stroke-width="0.8" />
<line x1="491.93" y1="258.10" x2="491.93" y2="260.50" stroke="#555" stroke-width="0.8" />
<line x1="497.23" y1="258.10" x2="497.23" y2="260.50" stroke="#555" stroke-width="0.8" />
<line x1="501.35" y1="258.10" x2="501.35" y2="260.50" stroke="#555" stroke-width="0.8" />
<line x1="504.71" y1="258.10" x2="504.71" y2="260.50" stroke="#555" stroke-width="0.8" />
<line x1="507.56" y1="258.10" x2="507.56" y2="260.50" stroke="#555" stroke-width="0.8" />
<line x1="510.02" y1="258.10" x2="510.02" y2="260.50" stroke="#555" stroke-width="0.8" />
<line x1="512.19" y1="258.10" x2="512.19" y2="260.50" stroke="#555" stroke-width="0.8" />
<line x1="514.13" y1="258.10" x2="514.13" y2="261.70" stroke="#555" stroke-width="0.8" />
<line x1="526.92" y1="258.10" x2="526.92" y2="260.50" stroke="#555" stroke-width="0.8" />
<line x1="534.40" y1="258.10" x2="534.40" y2="260.50" stroke="#555" stroke-width="0.8" />
<line x1="539.70" y1="258.10" x2="539.70" y2="260.50" stroke="#555" stroke-width="0.8" />
<line x1="543.82" y1="258.10" x2="543.82" y2="260.50" stroke="#555" stroke-width="0.8" />
<line x1="547.18" y1="258.10" x2="547.18" y2="260.50" stroke="#555" stroke-width="0.8" />
<line x1="550.02" y1="258.10" x2="550.02" y2="260.50" stroke="#555" stroke-width="0.8" />
<line x1="552.48" y1="258.10" x2="552.48" y2="260.50" stroke="#555" stroke-width="0.8" />
<line x1="554.66" y1="258.10" x2="554.66" y2="260.50" stroke="#555" stroke-width="0.8" />
<line x1="556.60" y1="258.10" x2="556.60" y2="261.70" stroke="#555" stroke-width="0.8" />
<text x="429.20" y="276.60" font-size="9.8" font-family="Liberation Sans, sans-serif" fill="#1e1e1e" text-anchor="middle" textLength="5.35" lengthAdjust="spacingAndGlyphs" >0</text>
<text x="471.67" y="276.60" font-size="9.8" font-family="Liberation Sans, sans-serif" fill="#1e1e1e" text-anchor="middle" textLength="5.35" lengthAdjust="spacingAndGlyphs" >1</text>
<text x="514.13" y="276.60" font-size="9.8" font-family="Liberation Sans, sans-serif" fill="#1e1e1e" text-anchor="middle" textLength="10.7" lengthAdjust="spacingAndGlyphs" >10</text>
<text x="556.60" y="276.60" font-size="9.8" font-family="Liberation Sans, sans-serif" fill="#1e1e1e" text-anchor="middle" textLength="16.05" lengthAdjust="spacingAndGlyphs" >100</text>
<text x="492.50" y="286.60" font-size="9.4" font-family="Liberation Sans, sans-serif" fill="#1e1e1e" font-weight="bold" text-anchor="middle" textLength="63.6" lengthAdjust="spacingAndGlyphs" >Pore size (nm)</text>
<text x="392.20" y="204.00" font-size="10.0" font-family="Liberation Sans, sans-serif" fill="#1e1e1e" font-weight="bold" text-anchor="middle" textLength="96" lengthAdjust="spacingAndGlyphs" transform="rotate(-90 392.20 204.00)" >dV(D) (cm<tspan font-size="6.5" dy="-3.5">3</tspan><tspan dy="3.5"> g</tspan><tspan font-size="6.5" dy="-3.5">-1</tspan><tspan dy="3.5"> nm</tspan><tspan font-size="6.5" dy="-3.5">-1</tspan><tspan dy="3.5">)</tspan></text>
<text x="538.90" y="253.90" font-size="12.5" font-family="Liberation Sans, sans-serif" fill="#1e1e1e" font-weight="bold" textLength="13.8" lengthAdjust="spacingAndGlyphs" >(e)</text>
<line x1="483.30" y1="153.20" x2="483.30" y2="258.10" stroke="#3050B8" stroke-width="1.5" stroke-dasharray="1.5 1.7"/>
<line x1="543.60" y1="153.20" x2="543.60" y2="239.80" stroke="#3050B8" stroke-width="1.5" stroke-dasharray="1.5 1.7"/>
<polyline points="465.50,218.60 465.90,213.40 466.80,208.50 467.80,202.70 469.30,196.00 469.70,189.20 470.70,181.90 471.70,173.40 472.60,176.70 472.60,184.40 473.60,191.20 474.50,197.00 475.50,202.70 476.50,208.50 477.40,213.40 478.40,218.20 479.60,221.80 481.10,210.20 481.10,215.30 481.80,218.90 482.50,225.50 484.70,228.40 486.20,230.50 487.60,229.10 489.10,231.30 490.50,234.90 491.30,232.70 492.70,228.40 493.60,224.00 494.30,220.50 494.60,213.60 495.00,208.70 495.70,205.30 497.10,201.80 498.40,198.40 499.80,195.60 500.90,194.60 501.90,199.00 501.20,203.20 502.60,207.40 504.00,211.50 505.40,215.00 506.70,217.70 508.10,221.20 509.50,223.30 511.60,220.50 513.70,219.10 515.00,224.00 516.50,227.50 517.50,230.00 519.40,229.40 521.60,231.60 523.80,234.90 525.50,236.60 527.20,234.90 529.40,232.70 531.60,236.00 533.60,238.30 535.50,234.90 537.10,233.30 538.80,234.90" fill="none" stroke="#000" stroke-width="1.0" stroke-linejoin="round"/>
<circle cx="465.50" cy="218.60" r="2.05" fill="#000"/>
<circle cx="465.90" cy="213.40" r="2.05" fill="#000"/>
<circle cx="466.80" cy="208.50" r="2.05" fill="#000"/>
<circle cx="467.80" cy="202.70" r="2.05" fill="#000"/>
<circle cx="469.30" cy="196.00" r="2.05" fill="#000"/>
<circle cx="469.70" cy="189.20" r="2.05" fill="#000"/>
<circle cx="470.70" cy="181.90" r="2.05" fill="#000"/>
<circle cx="471.70" cy="173.40" r="2.05" fill="#000"/>
<circle cx="472.60" cy="176.70" r="2.05" fill="#000"/>
<circle cx="472.60" cy="184.40" r="2.05" fill="#000"/>
<circle cx="473.60" cy="191.20" r="2.05" fill="#000"/>
<circle cx="474.50" cy="197.00" r="2.05" fill="#000"/>
<circle cx="475.50" cy="202.70" r="2.05" fill="#000"/>
<circle cx="476.50" cy="208.50" r="2.05" fill="#000"/>
<circle cx="477.40" cy="213.40" r="2.05" fill="#000"/>
<circle cx="478.40" cy="218.20" r="2.05" fill="#000"/>
<circle cx="479.60" cy="221.80" r="2.05" fill="#000"/>
<circle cx="481.10" cy="210.20" r="2.05" fill="#000"/>
<circle cx="481.10" cy="215.30" r="2.05" fill="#000"/>
<circle cx="481.80" cy="218.90" r="2.05" fill="#000"/>
<circle cx="482.50" cy="225.50" r="2.05" fill="#000"/>
<circle cx="484.70" cy="228.40" r="2.05" fill="#000"/>
<circle cx="486.20" cy="230.50" r="2.05" fill="#000"/>
<circle cx="487.60" cy="229.10" r="2.05" fill="#000"/>
<circle cx="489.10" cy="231.30" r="2.05" fill="#000"/>
<circle cx="490.50" cy="234.90" r="2.05" fill="#000"/>
<circle cx="491.30" cy="232.70" r="2.05" fill="#000"/>
<circle cx="492.70" cy="228.40" r="2.05" fill="#000"/>
<circle cx="493.60" cy="224.00" r="2.05" fill="#000"/>
<circle cx="494.30" cy="220.50" r="2.05" fill="#000"/>
<circle cx="494.60" cy="213.60" r="2.05" fill="#000"/>
<circle cx="495.00" cy="208.70" r="2.05" fill="#000"/>
<circle cx="495.70" cy="205.30" r="2.05" fill="#000"/>
<circle cx="497.10" cy="201.80" r="2.05" fill="#000"/>
<circle cx="498.40" cy="198.40" r="2.05" fill="#000"/>
<circle cx="499.80" cy="195.60" r="2.05" fill="#000"/>
<circle cx="500.90" cy="194.60" r="2.05" fill="#000"/>
<circle cx="501.90" cy="199.00" r="2.05" fill="#000"/>
<circle cx="501.20" cy="203.20" r="2.05" fill="#000"/>
<circle cx="502.60" cy="207.40" r="2.05" fill="#000"/>
<circle cx="504.00" cy="211.50" r="2.05" fill="#000"/>
<circle cx="505.40" cy="215.00" r="2.05" fill="#000"/>
<circle cx="506.70" cy="217.70" r="2.05" fill="#000"/>
<circle cx="508.10" cy="221.20" r="2.05" fill="#000"/>
<circle cx="509.50" cy="223.30" r="2.05" fill="#000"/>
<circle cx="511.60" cy="220.50" r="2.05" fill="#000"/>
<circle cx="513.70" cy="219.10" r="2.05" fill="#000"/>
<circle cx="515.00" cy="224.00" r="2.05" fill="#000"/>
<circle cx="516.50" cy="227.50" r="2.05" fill="#000"/>
<circle cx="517.50" cy="230.00" r="2.05" fill="#000"/>
<circle cx="519.40" cy="229.40" r="2.05" fill="#000"/>
<circle cx="521.60" cy="231.60" r="2.05" fill="#000"/>
<circle cx="523.80" cy="234.90" r="2.05" fill="#000"/>
<circle cx="525.50" cy="236.60" r="2.05" fill="#000"/>
<circle cx="527.20" cy="234.90" r="2.05" fill="#000"/>
<circle cx="529.40" cy="232.70" r="2.05" fill="#000"/>
<circle cx="531.60" cy="236.00" r="2.05" fill="#000"/>
<circle cx="533.60" cy="238.30" r="2.05" fill="#000"/>
<circle cx="535.50" cy="234.90" r="2.05" fill="#000"/>
<circle cx="537.10" cy="233.30" r="2.05" fill="#000"/>
<circle cx="538.80" cy="234.90" r="2.05" fill="#000"/>
<circle cx="497.10" cy="201.80" r="2.05" fill="#000"/>
<circle cx="497.56" cy="200.59" r="2.05" fill="#000"/>
<circle cx="498.03" cy="199.37" r="2.05" fill="#000"/>
<circle cx="498.52" cy="198.17" r="2.05" fill="#000"/>
<circle cx="499.10" cy="197.00" r="2.05" fill="#000"/>
<circle cx="499.68" cy="195.84" r="2.05" fill="#000"/>
<circle cx="500.56" cy="194.91" r="2.05" fill="#000"/>
<circle cx="501.09" cy="195.42" r="2.05" fill="#000"/>
<circle cx="501.37" cy="196.69" r="2.05" fill="#000"/>
<circle cx="501.66" cy="197.96" r="2.05" fill="#000"/>
<circle cx="515.00" cy="224.00" r="2.05" fill="#000"/>
<circle cx="515.63" cy="225.47" r="2.05" fill="#000"/>
<circle cx="516.26" cy="226.94" r="2.05" fill="#000"/>
<circle cx="516.87" cy="228.42" r="2.05" fill="#000"/>
<circle cx="517.46" cy="229.91" r="2.05" fill="#000"/>
<circle cx="518.93" cy="229.55" r="2.05" fill="#000"/>
<circle cx="520.18" cy="230.18" r="2.05" fill="#000"/>
<circle cx="521.31" cy="231.31" r="2.05" fill="#000"/>
<circle cx="522.26" cy="232.59" r="2.05" fill="#000"/>
<circle cx="523.15" cy="233.93" r="2.05" fill="#000"/>
<circle cx="524.10" cy="235.20" r="2.05" fill="#000"/>
<circle cx="525.24" cy="236.34" r="2.05" fill="#000"/>
<circle cx="526.37" cy="235.73" r="2.05" fill="#000"/>
<circle cx="527.50" cy="234.60" r="2.05" fill="#000"/>
<circle cx="528.63" cy="233.47" r="2.05" fill="#000"/>
<circle cx="529.68" cy="233.12" r="2.05" fill="#000"/>
<circle cx="530.57" cy="234.46" r="2.05" fill="#000"/>
<circle cx="531.46" cy="235.79" r="2.05" fill="#000"/>
<circle cx="532.48" cy="237.01" r="2.05" fill="#000"/>
<circle cx="533.53" cy="238.22" r="2.05" fill="#000"/>
<circle cx="534.33" cy="236.99" r="2.05" fill="#000"/>
<circle cx="535.11" cy="235.60" r="2.05" fill="#000"/>
<circle cx="536.07" cy="234.33" r="2.05" fill="#000"/>
<circle cx="537.20" cy="233.39" r="2.05" fill="#000"/>
<circle cx="538.37" cy="234.49" r="2.05" fill="#000"/>
<line x1="470.90" y1="157.30" x2="438.00" y2="157.30" stroke="#1C8B47" stroke-width="1.7" stroke-linecap="round"/>
<polyline points="446.13,152.79 438.00,157.30 446.13,161.81" fill="none" stroke="#1C8B47" stroke-width="1.7" stroke-linecap="round" stroke-linejoin="miter"/>
<text x="439.30" y="173.80" font-size="9.5" font-family="Liberation Sans, sans-serif" fill="#1C8B47" font-weight="bold" textLength="29.7" lengthAdjust="spacingAndGlyphs" >micro-</text>
<line x1="493.30" y1="157.40" x2="533.70" y2="157.40" stroke="#3152A6" stroke-width="1.7" stroke-linecap="round"/>
<polyline points="525.57,161.91 533.70,157.40 525.57,152.89" fill="none" stroke="#3152A6" stroke-width="1.7" stroke-linecap="round" stroke-linejoin="miter"/>
<polyline points="501.43,152.89 493.30,157.40 501.43,161.91" fill="none" stroke="#3152A6" stroke-width="1.7" stroke-linecap="round" stroke-linejoin="miter"/>
<text x="500.00" y="174.00" font-size="9.5" font-family="Liberation Sans, sans-serif" fill="#3152A6" font-weight="bold" textLength="28.6" lengthAdjust="spacingAndGlyphs" >meso-</text>
</svg>
</body></html>
